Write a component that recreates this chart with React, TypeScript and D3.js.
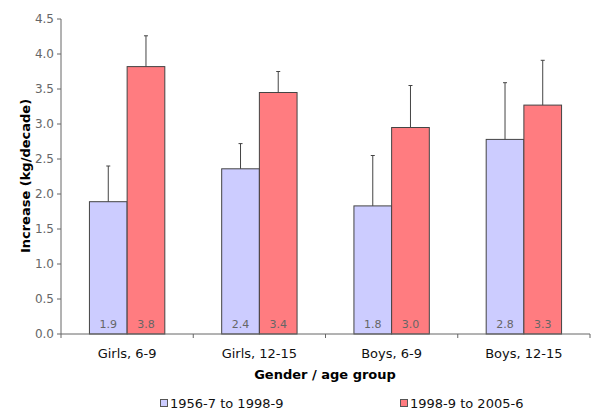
import React from "react";
import * as d3 from "d3";

const categories = ["Girls, 6-9", "Girls, 12-15", "Boys, 6-9", "Boys, 12-15"];
const seriesNames = ["1956-7 to 1998-9", "1998-9 to 2005-6"];
const series1 = [1.89, 2.36, 1.83, 2.78];
const series2 = [3.82, 3.45, 2.95, 3.27];
const series1Upper = [2.40, 2.72, 2.55, 3.59];
const series2Upper = [4.26, 3.75, 3.55, 3.91];
const series1Labels = ["1.9", "2.4", "1.8", "2.8"];
const series2Labels = ["3.8", "3.4", "3.0", "3.3"];
const yTicks = [0, 0.5, 1, 1.5, 2, 2.5, 3, 3.5, 4, 4.5];
const colors = ["#CCCCFF", "#FF7C80"];

const W = 600, H = 415;
const left = 61, right = 590, top = 19, bottom = 334;
const FONT = "'DejaVu Sans', Verdana, sans-serif";

export default function App() {
  const x = d3.scaleBand<string>().domain(categories).range([left, right]).paddingInner(0).paddingOuter(0);
  const y = d3.scaleLinear().domain([0, 4.5]).range([bottom, top]);
  const barW = x.bandwidth() * 0.285;
  const vals = [series1, series2];
  const uppers = [series1Upper, series2Upper];
  const labels = [series1Labels, series2Labels];

  return (
    <svg width={W} height={H} style={{ position: "absolute", left: 0, top: 0, background: "#fff" }} fontFamily={FONT}>
      {categories.map((c, i) => {
        const cx = (x(c) as number) + x.bandwidth() / 2;
        return vals.map((s, k) => {
          const bx = cx - barW + k * barW;
          const mid = bx + barW / 2;
          return (
            <g key={c + k}>
              <rect x={bx} y={y(s[i])} width={barW} height={y(0) - y(s[i])} fill={colors[k]} stroke="#444" strokeWidth={1} />
              <line x1={mid} x2={mid} y1={y(s[i])} y2={y(uppers[k][i])} stroke="#444" strokeWidth={1} />
              <line x1={mid - 2} x2={mid + 2} y1={y(uppers[k][i])} y2={y(uppers[k][i])} stroke="#444" strokeWidth={1} />
              <text x={mid} y={328} textAnchor="middle" fontSize={11} fill="#666">{labels[k][i]}</text>
            </g>
          );
        });
      })}
      {/* y axis */}
      <line x1={left} x2={left} y1={top} y2={bottom} stroke="#666" />
      {yTicks.map((t) => (
        <g key={t}>
          <line x1={left - 4} x2={left} y1={y(t)} y2={y(t)} stroke="#666" />
          <text x={left - 7} y={y(t)} dy="0.35em" textAnchor="end" fontSize={12} fill="#666">{t.toFixed(1)}</text>
        </g>
      ))}
      {/* x axis */}
      <line x1={left} x2={right} y1={bottom} y2={bottom} stroke="#666" />
      {[...categories.map((c) => x(c) as number), right].map((px, i) => (
        <line key={i} x1={px} x2={px} y1={bottom} y2={bottom + 4} stroke="#666" />
      ))}
      {categories.map((c) => (
        <text key={c} x={(x(c) as number) + x.bandwidth() / 2} y={358} textAnchor="middle" fontSize={13} fill="#111">{c}</text>
      ))}
      <text x={325} y={379} textAnchor="middle" fontSize={13} fontWeight="bold" fill="#000">Gender / age group</text>
      <text transform={`translate(30,176) rotate(-90)`} textAnchor="middle" fontSize={13} fontWeight="bold" fill="#000">Increase (kg/decade)</text>
      {/* legend */}
      {seriesNames.map((n, k) => {
        const lx = k === 0 ? 160 : 400;
        return (
          <g key={n}>
            <rect x={lx + 0.5} y={399.5} width={7} height={7} fill={colors[k]} stroke="#555" />
            <text x={lx + 10} y={407.5} fontSize={13} fill="#111">{n}</text>
          </g>
        );
      })}
    </svg>
  );
}
